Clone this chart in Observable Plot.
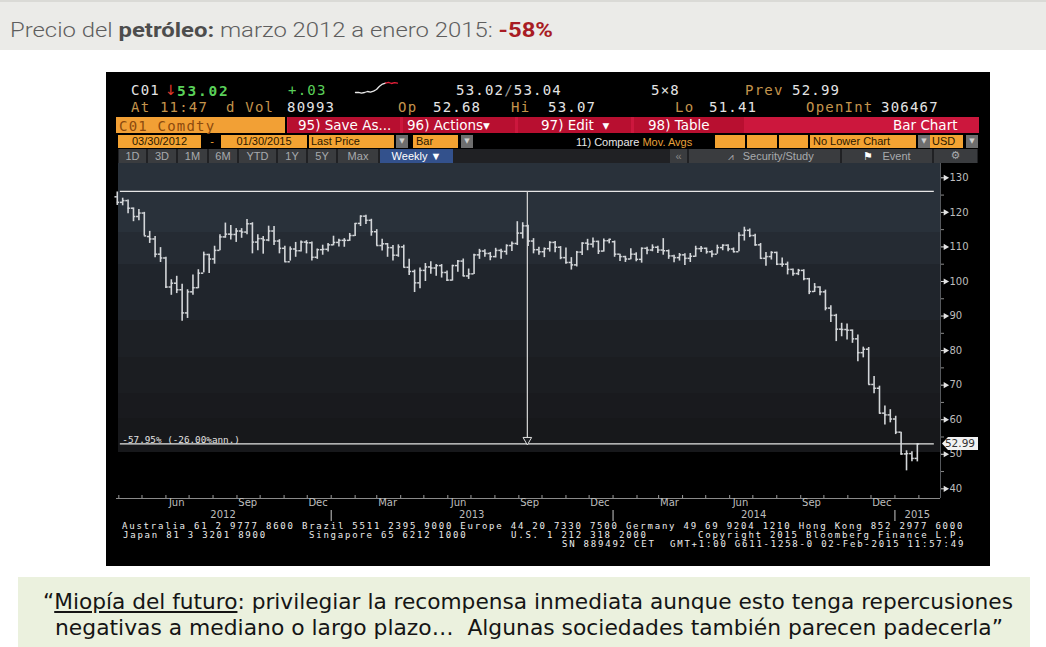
<!DOCTYPE html>
<html><head><meta charset="utf-8">
<script src="https://cdn.jsdelivr.net/npm/d3@7"></script>
<script src="https://cdn.jsdelivr.net/npm/@observablehq/plot@0.6"></script>
<style>
html,body{margin:0;padding:0;background:#fff}
#page{position:relative;width:1046px;height:647px;overflow:hidden;background:#fff}
.a{position:absolute;white-space:nowrap;line-height:1}
.m{font-family:"DejaVu Sans Mono",monospace;font-size:14px;letter-spacing:1.2px}
.w{color:#e4e4e4}.t{color:#c4944c}.gr{color:#5ad05a}
.ob{position:absolute;top:135px;height:13px;background:#f4a332;color:#2a1800;font:11px "Liberation Sans",Arial,sans-serif;line-height:13px;text-align:center;white-space:nowrap;overflow:hidden}
.gd{position:absolute;top:135px;height:13px;width:12px;background:#6e6e6e;color:#cfcfcf;font:7px "DejaVu Sans";line-height:13px;text-align:center}
.bt{position:absolute;top:149px;height:14px;background:#3a3c3f;color:#a8aaad;font:11px "Liberation Sans",Arial,sans-serif;line-height:14px;text-align:center;white-space:nowrap}
.rs{position:absolute;top:117px;height:16px;background:#b80f30}
.rb{position:absolute;top:117px;height:16px;color:#fff;font:13.5px "DejaVu Sans",sans-serif;line-height:16px;white-space:nowrap}
.ft{position:absolute;color:#ececec;font:9px "DejaVu Sans Mono",monospace;letter-spacing:1.78px;line-height:9px;height:9px;white-space:nowrap}
.q{position:absolute;white-space:nowrap;line-height:1;font:22px "Liberation Sans Narrow","DejaVu Sans Condensed",sans-serif;color:#151515}
</style></head>
<body><div id="page">
<div class="a" style="left:0;top:0;width:1046px;height:50px;background:#ebebe8;border-top:2px solid #dadad6;box-sizing:border-box"></div>
<div id="title" class="a" style="left:10px;top:18px;font:300 21px Roboto,sans-serif;color:#5e5e5e">Precio del <b style="font-weight:700;color:#4d4d4d">petróleo:</b> marzo 2012 a enero 2015: <b style="font-weight:700;color:#a81c24">-58%</b></div>

<div class="a" style="left:106px;top:72px;width:884px;height:494px;background:#000"></div>

<!-- row 1 -->
<div class="a m w" style="left:131px;top:83px">C01</div>
<div class="a" style="left:165px;top:82px;font:14px 'DejaVu Sans';color:#e23b2b">↓</div>
<div class="a gr" style="left:177px;top:83px;font:bold 14.5px 'DejaVu Sans Mono';letter-spacing:1.8px">53.02</div>
<div class="a m gr" style="left:288px;top:83px">+.03</div>
<div id="spark" class="a" style="left:354px;top:80px;width:44px;height:15px"></div>
<div class="a m w" style="left:456px;top:83px">53.02<span style="color:#9a9a9a">/</span>53.04</div>
<div class="a m w" style="left:651px;top:83px">5×8</div>
<div class="a m t" style="left:745px;top:83px">Prev</div>
<div class="a m w" style="left:792px;top:83px">52.99</div>
<!-- row 2 -->
<div class="a m t" style="left:131px;top:100px">At 11:47</div>
<div class="a m t" style="left:226px;top:100px">d Vol</div>
<div class="a m w" style="left:287px;top:100px">80993</div>
<div class="a m t" style="left:398px;top:100px">Op</div>
<div class="a m w" style="left:433px;top:100px">52.68</div>
<div class="a m t" style="left:511px;top:100px">Hi</div>
<div class="a m w" style="left:548px;top:100px">53.07</div>
<div class="a m t" style="left:675px;top:100px">Lo</div>
<div class="a m w" style="left:709px;top:100px">51.41</div>
<div class="a m t" style="left:806px;top:100px">OpenInt</div>
<div class="a m w" style="left:881px;top:100px">306467</div>
<!-- row 3 -->
<div class="a" style="left:116px;top:117px;width:169px;height:16px;background:#f2a035"></div>
<div class="a m" style="left:119px;top:119px;color:#8c4a0e">C01 Comdty</div>
<div class="a" style="left:287px;top:117px;width:692px;height:16px;background:#cc173d"></div>
<div class="rs" style="left:288px;width:112px"></div>
<div class="rs" style="left:403px;width:112px"></div>
<div class="rs" style="left:518px;width:113px"></div>
<div class="rs" style="left:634px;width:110px"></div>
<div class="rb" style="left:298px">95) Save As...</div>
<div class="rb" style="left:407px">96) Actions▾</div>
<div class="rb" style="left:541px">97) Edit&nbsp;&nbsp;▾</div>
<div class="rb" style="left:648px">98) Table</div>
<div class="rb" style="left:893px">Bar Chart</div>
<!-- row 4 -->
<div class="ob" style="left:118px;width:83px">03/30/2012</div>
<div class="a" style="left:203px;top:135px;width:18px;height:13px;color:#f4a332;font:11px 'Liberation Sans';line-height:13px;text-align:center">-</div>
<div class="ob" style="left:221px;width:86px">01/30/2015</div>
<div class="ob" style="left:309px;width:85px;text-align:left;padding-left:2px;box-sizing:border-box">Last Price</div>
<div class="gd" style="left:396px">▼</div>
<div class="ob" style="left:413px;width:45px;text-align:left;padding-left:3px;box-sizing:border-box">Bar</div>
<div class="gd" style="left:461px">▼</div>
<div class="a" style="left:576px;top:136px;font:11px 'Liberation Sans';color:#e8e8e8">11) Compare <span style="color:#e6a13a">Mov. Avgs</span></div>
<div class="ob" style="left:715px;width:30px"></div>
<div class="ob" style="left:747px;width:30px"></div>
<div class="ob" style="left:779px;width:29px"></div>
<div class="ob" style="left:810px;width:106px;text-align:left;padding-left:3px;box-sizing:border-box">No Lower Chart</div>
<div class="gd" style="left:918px">▼</div>
<div class="ob" style="left:930px;width:33px;text-align:left;padding-left:2px;box-sizing:border-box">USD</div>
<div class="gd" style="left:966px">▼</div>
<!-- row 5 -->
<div class="a" style="left:118px;top:149px;width:860px;height:14px;background:#202124"></div>
<div class="bt" style="left:119px;width:27px">1D</div>
<div class="bt" style="left:148px;width:28px">3D</div>
<div class="bt" style="left:178px;width:29px">1M</div>
<div class="bt" style="left:209px;width:28px">6M</div>
<div class="bt" style="left:239px;width:37px">YTD</div>
<div class="bt" style="left:278px;width:28px">1Y</div>
<div class="bt" style="left:308px;width:28px">5Y</div>
<div class="bt" style="left:338px;width:40px">Max</div>
<div class="bt" style="left:380px;width:73px;background:#33518c;color:#fff">Weekly ▼</div>
<div class="bt" style="left:670px;width:17px;color:#888">«</div>
<div class="bt" style="left:689px;width:151px">&nbsp;&nbsp;&nbsp;&nbsp;<span style="font-size:10px">⩘</span>&nbsp;&nbsp;&nbsp;Security/Study</div>
<div class="bt" style="left:842px;width:90px"><span style="color:#fff">⚑</span>&nbsp;&nbsp;&nbsp;Event</div>
<div class="bt" style="left:934px;width:43px;font-family:'DejaVu Sans'">⚙</div>

<!-- plot background bands -->
<div class="a" style="left:118px;top:163px;width:822px;height:289px;background:linear-gradient(to bottom,#29313a 0px,#29313a 69px,#252b33 69px,#252b33 101px,#20252c 101px,#20252c 157px,#1d2025 157px,#1d2025 194px,#1b1d21 194px,#1b1d21 230px,#191a1e 230px,#191a1e 255px,#17181b 255px)"></div>
<div id="chart" class="a" style="left:106px;top:163px"></div>
<div id="tag" class="a" style="left:942px;width:36px;height:13px;background:#f2f2f2;color:#333;font:10.5px 'DejaVu Sans';line-height:13px;text-align:right;padding-right:3px;box-sizing:border-box;clip-path:polygon(0 50%,6px 0,100% 0,100% 100%,6px 100%)"></div>

<!-- footer -->
<div class="ft" style="left:122px;top:522px">Australia 61 2 9777 8600 Brazil 5511 2395 9000 Europe 44 20 7330 7500 Germany 49 69 9204 1210 Hong Kong 852 2977 6000</div>
<div class="ft" style="left:123px;top:531px">Japan 81 3 3201 8900</div>
<div class="ft" style="left:309px;top:531px">Singapore 65 6212 1000</div>
<div class="ft" style="left:511px;top:531px">U.S. 1 212 318 2000</div>
<div class="ft" style="left:698px;top:531px">Copyright 2015 Bloomberg Finance L.P.</div>
<div class="ft" style="left:562px;top:540px">SN 889492 CET</div>
<div class="ft" style="left:670px;top:540px">GMT+1:00 G611-1258-0 02-Feb-2015 11:57:49</div>

<!-- quote -->
<div class="a" style="left:18px;top:577px;width:1012px;height:70px;background:#ebf1de"></div>
<div id="q1" class="q" style="left:43px;top:589px">“<u>Miopía del futuro</u>: privilegiar la recompensa inmediata aunque esto tenga repercusiones</div>
<div id="q2" class="q" style="left:55px;top:615px">negativas a mediano o largo plazo…&nbsp; Algunas sociedades también parecen padecerla”</div>
</div>
<script>
// Weekly Brent (CO1) OHLC, Fridays 30 Mar 2012 .. 30 Jan 2015
const open = [
124.5,122.9,123.4,121.2,118.8,119.8,113.0,112.3,107.9,106.8,
98.4,99.5,97.6,90.9,97.0,98.2,102.4,107.8,106.5,109.0,
112.9,113.7,113.6,114.6,114.3,116.7,111.4,112.4,112.0,114.6,
111.7,109.6,105.7,109.4,108.9,111.4,111.2,107.0,109.2,109.3,
110.6,111.3,111.9,111.9,113.3,116.8,118.9,117.7,114.4,110.4,
110.9,109.8,107.6,110.0,104.1,102.9,99.6,103.2,104.2,103.9,
104.6,102.6,100.4,104.6,105.9,101.6,102.2,107.7,108.8,108.1,
107.2,109.0,108.7,110.4,111.0,114.0,116.1,111.7,109.2,108.6,
109.5,111.3,109.9,106.9,105.5,104.8,108.5,111.1,110.8,111.6,
108.8,111.8,111.5,107.9,107.2,106.5,107.9,106.4,109.6,109.1,
109.9,109.1,108.9,107.4,106.9,107.7,106.7,107.3,109.5,109.6,
108.6,107.9,109.8,110.5,109.4,108.6,113.4,114.8,113.3,110.6,
106.7,107.2,108.4,105.0,105.0,103.5,102.3,103.2,100.8,97.1,
98.4,97.0,92.3,90.2,86.2,86.1,85.9,83.4,79.4,80.4,
70.2,69.1,61.9,61.4,60.2,56.4,50.1,50.2,48.8];
const high = [
125.9,124.1,123.6,121.3,120.8,120.0,114.5,113.0,109.8,107.0,
100.5,101.5,99.2,97.6,101.9,103.4,108.5,107.9,110.2,113.5,
116.9,116.2,115.3,115.3,117.9,117.0,113.5,113.0,116.0,115.9,
112.1,110.2,110.0,111.3,111.7,111.8,111.4,109.4,110.5,111.0,
113.1,112.2,112.4,113.9,116.8,119.0,119.2,118.0,115.0,112.2,
111.0,110.4,110.6,110.5,106.4,103.3,103.9,105.2,105.7,104.9,
104.9,103.0,104.7,106.1,106.5,103.6,107.9,109.3,109.2,108.4,
109.6,109.3,110.6,111.4,117.3,117.0,116.3,112.4,109.9,109.7,
111.5,111.6,110.1,109.7,106.9,108.7,111.2,112.2,112.6,111.7,
112.3,112.2,111.7,107.9,107.3,109.5,108.3,109.7,109.9,110.6,
110.2,112.4,109.1,107.6,108.1,108.0,108.1,110.2,110.1,109.7,
108.9,110.5,110.6,110.6,109.7,114.1,115.7,115.2,113.7,111.0,
108.4,108.6,108.5,106.8,105.6,103.6,103.5,103.4,100.9,99.4,
98.5,97.5,93.0,90.5,87.9,87.7,86.0,84.5,81.0,80.9,
72.5,69.7,64.0,62.9,61.0,56.4,51.0,50.7,53.1];
const low = [
122.0,121.9,119.6,117.3,117.6,113.2,111.0,106.9,105.5,98.0,
96.0,96.5,88.5,89.3,96.0,97.9,102.5,102.3,105.0,108.9,
112.5,112.0,111.3,112.5,113.5,108.0,108.9,107.9,111.5,110.4,
108.0,105.6,105.9,107.0,108.5,108.0,105.9,106.4,107.6,108.5,
110.3,110.0,109.9,111.6,113.0,115.9,116.5,113.1,110.3,108.8,
107.0,105.9,107.0,104.0,101.7,96.8,97.9,100.0,102.1,101.5,
101.0,100.0,100.1,102.7,101.4,100.6,102.0,106.4,107.0,106.0,
106.8,106.4,107.6,108.7,110.4,112.3,110.1,108.0,107.6,106.9,
108.5,108.3,106.3,105.0,103.3,104.2,107.5,108.9,109.7,107.8,
108.5,110.9,107.0,105.8,105.5,106.3,105.7,105.3,107.7,108.6,
108.1,107.6,106.4,105.4,105.9,104.6,105.5,107.0,108.4,107.9,
106.9,107.9,108.9,108.6,108.3,108.6,111.7,112.7,110.2,106.4,
104.4,106.2,104.6,104.1,101.9,101.5,101.7,100.2,96.2,96.8,
95.9,91.5,88.1,82.6,84.0,83.1,82.1,76.8,77.9,70.1,
67.5,61.6,58.5,59.1,55.7,49.7,45.2,47.8,47.8];
const close = [
122.9,123.4,121.2,118.8,119.8,113.2,112.3,107.9,106.8,98.4,
99.5,97.6,90.9,97.0,98.2,102.4,107.8,106.5,109.0,112.9,
113.7,113.6,114.6,114.3,116.7,111.4,112.4,112.0,114.6,111.7,
109.6,105.7,109.4,108.9,111.4,111.2,107.0,109.2,109.3,110.6,
111.3,111.9,111.9,113.3,116.8,118.9,117.7,114.4,110.4,110.9,
109.8,107.6,110.0,104.1,102.9,99.6,103.2,104.2,103.9,104.6,
102.6,100.4,104.6,105.9,101.6,102.2,107.7,108.8,108.1,107.2,
109.0,108.7,110.4,111.0,114.0,116.1,111.7,109.2,108.6,109.5,
111.3,109.9,106.9,105.5,104.8,108.5,111.1,110.8,111.6,108.8,
111.8,112.2,107.9,107.2,106.5,107.9,106.4,109.6,109.1,109.9,
109.1,108.9,107.4,106.9,107.7,106.7,107.3,109.5,109.6,108.6,
107.9,109.8,110.5,109.4,108.6,113.4,114.8,113.3,110.6,106.7,
107.2,108.4,105.0,105.0,103.5,102.3,103.2,100.8,97.1,98.4,
97.0,92.3,90.2,86.2,86.1,85.9,83.4,79.4,80.4,70.2,
69.1,61.9,61.4,60.2,56.4,50.1,50.2,48.8,52.99];

const firstFriday = "2012-03-30";
const lastFriday = "2015-01-30";
const yTicks = [40, 50, 60, 70, 80, 90, 100, 110, 120, 130];
const yMinorTicks = [45, 55, 65, 75, 85, 95, 105, 115, 125];
const monthLabels = ["Jun","Sep","Dec","Mar","Jun","Sep","Dec","Mar","Jun","Sep","Dec"];
const monthLabelDates = ["2012-06-15","2012-09-15","2012-12-15","2013-03-15","2013-06-15","2013-09-15","2013-12-15","2014-03-15","2014-06-15","2014-09-15","2014-12-15"];
const yearLabels = ["2012","2013","2014","2015"];
const yearLabelDates = ["2012-08-14","2013-07-02","2014-07-02","2015-01-30"];
const yearStarts = ["2013-01-01","2014-01-01","2015-01-01"];
const measureDates = ["2012-04-03","2015-02-21"];
const measurePrices = [126.05, 52.99];
const measureText = "-57.95% (-26.00%ann.)";
const lastPrice = 52.99;
const sparkWhite = [52.55,52.56,52.52,52.55,52.6,52.57,52.62,52.7,52.86,52.97,53.02];
const sparkRed = [53.02,53.06,53.0,53.04,53.02];

const xDomain = [new Date("2012-03-29"), new Date("2015-03-01")];
const yDomain = [37.2, 134.14];

const weeks = d3.utcFriday.range(new Date(firstFriday), d3.utcDay.offset(new Date(lastFriday), 1));
const bars = weeks.map((date, i) => ({date, open: open[i], high: high[i], low: low[i], close: close[i]}));
const monthStarts = d3.utcMonth.range(xDomain[0], xDomain[1]);
const D = s => new Date(s);
const mStart = D(measureDates[0]), mEnd = D(measureDates[1]);
const mMid = new Date((+mStart + +mEnd) / 2);

const barColor = "#d3d6d9";
const axisText = "#bdbdbd";

const chart = Plot.plot({
  width: 884, height: 370,
  marginLeft: 10, marginRight: 50, marginTop: 0, marginBottom: 35,
  style: {background: "transparent", overflow: "visible", fontFamily: "DejaVu Sans"},
  x: {type: "utc", domain: xDomain, range: [10, 834], label: null},
  y: {domain: yDomain, range: [335, 0], label: null},
  marks: [
    Plot.ruleY([yDomain[0]], {stroke: "#8a8a8a"}),
    Plot.ruleX([xDomain[1]], {stroke: "#55585c"}),
    Plot.axisX(monthStarts, {anchor: "bottom", tickSize: 3, dy: -3, tickFormat: () => "", stroke: "#9a9a9a"}),
    Plot.axisX(yearStarts.map(D), {anchor: "bottom", tickSize: 11, dy: 12, tickFormat: () => "", stroke: "#c8c8c8"}),
    Plot.text(monthLabelDates.map(D), {x: d => d, text: (d, i) => monthLabels[i], frameAnchor: "bottom", dy: 7, fill: axisText, fontSize: 10}),
    Plot.text(yearLabelDates.map(D), {x: d => d, text: (d, i) => yearLabels[i], frameAnchor: "bottom", dy: 19, fill: axisText, fontSize: 10}),
    Plot.axisY(yMinorTicks, {anchor: "right", tickSize: 3, tickFormat: () => "", stroke: "#8a8a8a"}),
    Plot.axisY(yTicks, {anchor: "right", tickSize: 4, tickFormat: () => "", stroke: "#dcdcdc"}),
    Plot.dot(yTicks, {y: d => d, frameAnchor: "right", symbol: "triangle", rotate: 90, r: 2.3, dx: 5, fill: "#e2e2e2"}),
    Plot.text(yTicks, {y: d => d, text: d => String(d), frameAnchor: "right", textAnchor: "start", dx: 9, fill: axisText, fontSize: 10}),
    // measurement tool
    Plot.ruleY([measurePrices[0]], {x1: () => mStart, x2: () => mEnd, stroke: "#e6e6e6", strokeWidth: 1.2}),
    Plot.ruleY([measurePrices[1]], {x1: () => mStart, x2: () => mEnd, stroke: "#e6e6e6", strokeWidth: 1.2}),
    Plot.ruleX([mMid], {y1: measurePrices[0], y2: measurePrices[1], stroke: "#d8d8d8", strokeWidth: 1.2}),
    Plot.dot([mMid], {x: d => d, y: () => measurePrices[1], symbol: "triangle", rotate: 180, r: 3.2, dy: -4, stroke: "#e0e0e0", fill: "#1c1e22", strokeWidth: 1}),
    Plot.text([measureText], {x: () => mStart, y: () => measurePrices[1], text: d => d, textAnchor: "start", lineAnchor: "bottom", dx: 2, dy: -1, fill: "#e2e2e2", fontSize: 9.3, fontFamily: "DejaVu Sans Mono"}),
    // OHLC bars
    Plot.ruleX(bars, {x: "date", y1: "low", y2: "high", stroke: barColor, strokeWidth: 1.6}),
    Plot.ruleY(bars, {y: "open", x1: d => d3.utcDay.offset(d.date, -3), x2: "date", stroke: barColor, strokeWidth: 1.5}),
    Plot.ruleY(bars, {y: "close", x1: "date", x2: d => d3.utcDay.offset(d.date, 3), stroke: barColor, strokeWidth: 1.5})
  ]
});
document.getElementById("chart").appendChild(chart);

const tag = document.getElementById("tag");
tag.textContent = lastPrice.toFixed(2);
tag.style.top = (163 + chart.scale("y").apply(lastPrice) - 6.5) + "px";

// sparkline in the header
const spark = Plot.plot({
  width: 44, height: 15, margin: 1, axis: null,
  x: {domain: [0, sparkWhite.length + sparkRed.length - 2]},
  y: {domain: [52.45, 53.1]},
  style: {background: "transparent"},
  marks: [
    Plot.line(sparkWhite, {x: (d, i) => i, y: d => d, stroke: "#e8e8e8", strokeWidth: 1.3}),
    Plot.line(sparkRed, {x: (d, i) => i + sparkWhite.length - 1, y: d => d, stroke: "#e8203a", strokeWidth: 1.3})
  ]
});
document.getElementById("spark").appendChild(spark);

function fit(id, w) {
  const el = document.getElementById(id);
  const r = el.getBoundingClientRect().width;
  el.style.transformOrigin = "0 0";
  el.style.transform = `scaleX(${w / r})`;
}
fit("title", 543);
fit("q1", 970);
fit("q2", 948);
</script>
</body></html>
